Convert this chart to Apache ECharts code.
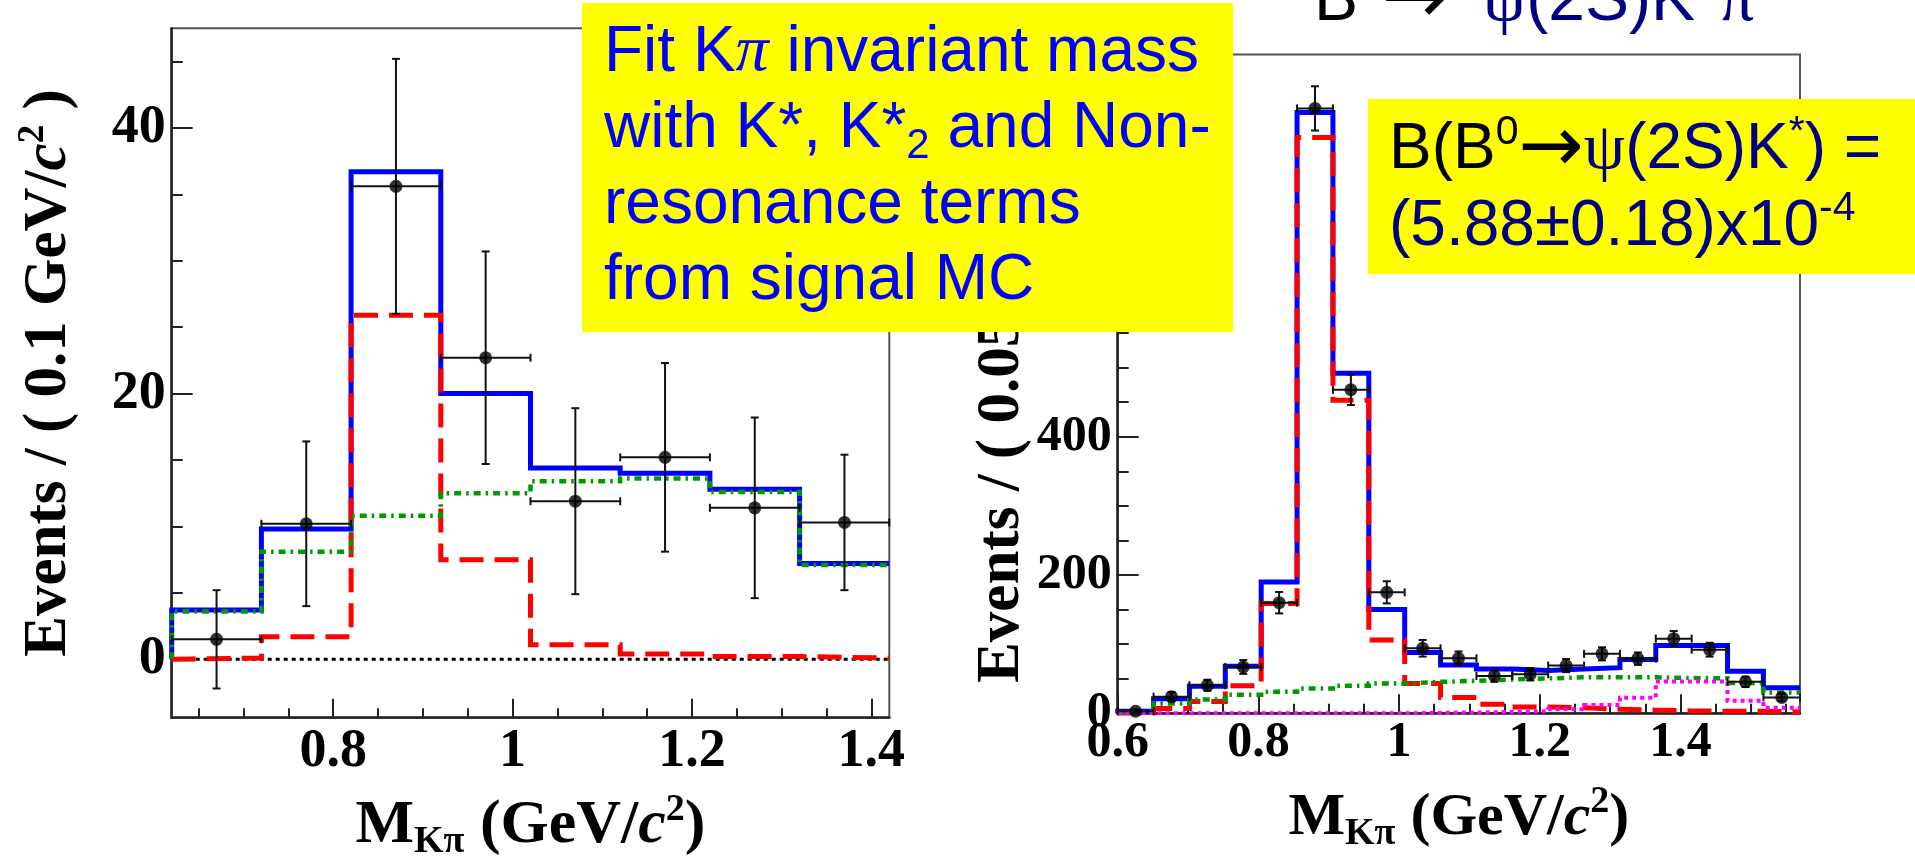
<!DOCTYPE html>
<html>
<head>
<meta charset="utf-8">
<script src="https://cdn.jsdelivr.net/npm/echarts@6/dist/echarts.min.js"></script>
<style>
html, body { margin: 0; padding: 0; background: #ffffff; }
#main { width: 1915px; height: 865px; }
</style>
</head>
<body>
<div id="main"></div>
<script>
// ---------- Left panel: K pi mass, 0.1 GeV/c^2 bins ----------
const leftBinEdges = [0.62, 0.72, 0.82, 0.92, 1.02, 1.12, 1.22, 1.32, 1.42];
const leftEvents = [1.5, 10.2, 35.6, 22.7, 11.9, 15.2, 11.4, 10.3];
const leftEventErr = [3.7, 6.2, 9.6, 8.0, 7.0, 7.1, 6.8, 5.1];
const leftFitTotal = [3.7, 9.8, 36.7, 20.0, 14.4, 14.0, 12.8, 7.2];
const leftFitKstar = [0.1, 1.7, 25.9, 7.5, 1.1, 0.4, 0.2, 0.1];
const leftFitNonRes = [3.6, 8.1, 10.8, 12.5, 13.4, 13.6, 12.6, 7.1];
const leftXMajor = [0.8, 1.0, 1.2, 1.4];
const leftXMinor = [0.65, 0.7, 0.75, 0.85, 0.9, 0.95, 1.05, 1.1, 1.15, 1.25, 1.3, 1.35];
const leftYMajor = [0, 20, 40];
const leftYMinor = [5, 10, 15, 25, 30, 35, 45];

// ---------- Right panel: K pi mass, 19 bins ----------
const rightBinEdges = [0.600, 0.651, 0.702, 0.753, 0.804, 0.855, 0.906, 0.957, 1.008, 1.059,
                       1.110, 1.161, 1.212, 1.263, 1.314, 1.365, 1.416, 1.467, 1.518, 1.570];
const rightEvents = [3, 24, 40.5, 67, 160, 875, 468, 175, 94, 79.5, 54, 56.5, 69, 86, 79, 108, 92, 45.5, 23];
const rightEventErr = [2.5, 6.5, 8, 10, 15.5, 32, 22, 16, 12, 10, 8.5, 9, 9.5, 9.5, 9, 11, 10, 7.5, 5.5];
const rightFitTotal = [3, 21, 39, 68, 190, 869, 492, 150, 88, 70, 64, 62, 64, 66, 78, 98, 98, 61, 37];
const rightFitKstar = [0.5, 7, 17, 40, 159, 833, 453, 106, 43, 23, 13, 9, 8, 6, 4.5, 3.5, 3, 3, 2];
const rightFitNonRes = [2, 14, 20, 27, 31, 36, 40, 43, 45.5, 47, 49, 50.5, 52, 52, 52, 51, 50.5, 44, 30];
const rightFitK2star = [0, 0, 0, 0, 0, 0, 0, 0, 0.5, 1, 2, 3, 6, 12, 22.5, 46, 46, 18, 8];
const rightXMajor = [0.6, 0.8, 1.0, 1.2, 1.4];
const rightXMinor = [0.65, 0.7, 0.75, 0.85, 0.9, 0.95, 1.05, 1.1, 1.15, 1.25, 1.3, 1.35, 1.45, 1.5, 1.55];
const rightYMajor = [0, 200, 400, 600, 800];
const rightYMinor = [50, 100, 150, 250, 300, 350, 450, 500, 550, 650, 700, 750, 850, 900];

const SERIF = '"Liberation Serif", "Times New Roman", serif';
const SANS = '"Liberation Sans", Arial, sans-serif';
const ARROW = '"DejaVu Sans", sans-serif';
const BLUE = '#0000ff', RED = '#ff0000', GREEN = '#009a00', MAGENTA = '#ff00ff', NAVY = '#000080';

// histogram outline: rise from zero at the first edge, then one level per bin
function stepPoints(edges, values) {
  const pts = [[edges[0], 0]];
  values.forEach((v, i) => pts.push([edges[i], v]));
  pts.push([edges[edges.length - 1], values[values.length - 1]]);
  return pts;
}

function stepSeries(axisIdx, edges, values, color, width, dash, z) {
  return {
    type: 'line', xAxisIndex: axisIdx, yAxisIndex: axisIdx,
    data: stepPoints(edges, values), step: 'end', symbol: 'none',
    lineStyle: { color: color, width: width, type: dash, cap: 'butt', join: 'miter' },
    z: z, silent: true, animation: false
  };
}

// data rows: [center, value, binLow, binHigh, value-err, value+err]
function dataRows(edges, values, errs) {
  return values.map((v, i) => [(edges[i] + edges[i + 1]) / 2, v, edges[i], edges[i + 1], v - errs[i], v + errs[i]]);
}

function errorBarSeries(axisIdx, rows) {
  return {
    type: 'custom', xAxisIndex: axisIdx, yAxisIndex: axisIdx, data: rows, z: 9,
    silent: true, animation: false,
    renderItem: function (params, api) {
      const c = api.coord([api.value(0), api.value(1)]);
      const l = api.coord([api.value(2), api.value(1)]);
      const r = api.coord([api.value(3), api.value(1)]);
      const b = api.coord([api.value(0), api.value(4)]);
      const t = api.coord([api.value(0), api.value(5)]);
      const h = 4;
      const st = { stroke: '#111', lineWidth: 2 };
      const seg = (x1, y1, x2, y2) => ({ type: 'line', shape: { x1, y1, x2, y2 }, style: st });
      return {
        type: 'group', children: [
          seg(l[0], c[1], r[0], c[1]),
          seg(c[0], b[1], c[0], t[1]),
          seg(c[0] - h, t[1], c[0] + h, t[1]),
          seg(c[0] - h, b[1], c[0] + h, b[1]),
          seg(l[0], c[1] - h, l[0], c[1] + h),
          seg(r[0], c[1] - h, r[0], c[1] + h)
        ]
      };
    }
  };
}

function pointSeries(axisIdx, edges, values) {
  return {
    type: 'scatter', xAxisIndex: axisIdx, yAxisIndex: axisIdx,
    data: values.map((v, i) => [(edges[i] + edges[i + 1]) / 2, v]),
    symbol: 'circle', symbolSize: 13, itemStyle: { color: '#000' }, z: 10,
    silent: true, animation: false
  };
}

function titleRich(size, subSize) {
  return {
    m: { fontFamily: SERIF, fontWeight: 'bold', fontSize: size, lineHeight: 70, color: '#000' },
    i: { fontFamily: SERIF, fontWeight: 'bold', fontStyle: 'italic', fontSize: size, lineHeight: 70, color: '#000' },
    s: { fontFamily: SERIF, fontWeight: 'bold', fontSize: subSize, lineHeight: 22, verticalAlign: 'bottom', color: '#000' },
    p: { fontFamily: SERIF, fontWeight: 'bold', fontSize: subSize, lineHeight: 66, verticalAlign: 'top', color: '#000' }
  };
}

function xAxisPair(gridIndex, min, max, majors, minors, labelSize, labelMargin, name, nameGap, nameSize) {
  const tickStyle = { color: '#222', width: 2 };
  return [
    {
      type: 'value', gridIndex, min, max, position: 'bottom',
      axisLine: { show: true, onZero: false, lineStyle: { color: '#222', width: 2.5 } },
      axisTick: { show: true, inside: true, length: 19, customValues: majors, lineStyle: tickStyle },
      axisLabel: { show: true, customValues: majors, margin: labelMargin, showMinLabel: true, showMaxLabel: true,
                   fontFamily: SERIF, fontWeight: 'bold', fontSize: labelSize, color: '#000' },
      splitLine: { show: false },
      name, nameLocation: 'middle', nameGap,
      nameTextStyle: { fontFamily: SERIF, fontWeight: 'bold', fontSize: nameSize, color: '#000', rich: titleRich(nameSize, 38) }
    },
    {
      type: 'value', gridIndex, min, max, position: 'bottom',
      axisLine: { show: false, onZero: false },
      axisTick: { show: true, inside: true, length: 9.5, customValues: minors, lineStyle: tickStyle },
      axisLabel: { show: false }, splitLine: { show: false }
    }
  ];
}

function yAxisPair(gridIndex, min, max, majors, minors, labelSize, name, nameGap) {
  const tickStyle = { color: '#222', width: 2 };
  return [
    {
      type: 'value', gridIndex, min, max, position: 'left',
      axisLine: { show: true, onZero: false, lineStyle: { color: '#222', width: 2.5 } },
      axisTick: { show: true, inside: true, length: 21, customValues: majors, lineStyle: tickStyle },
      axisLabel: { show: true, customValues: majors, margin: 6, showMinLabel: true,
                   fontFamily: SERIF, fontWeight: 'bold', fontSize: labelSize, color: '#000' },
      splitLine: { show: false },
      name, nameLocation: 'middle', nameGap,
      nameTextStyle: { fontFamily: SERIF, fontWeight: 'bold', fontSize: 61, color: '#000', rich: titleRich(61, 37) }
    },
    {
      type: 'value', gridIndex, min, max, position: 'left',
      axisLine: { show: false, onZero: false },
      axisTick: { show: true, inside: true, length: 11, customValues: minors, lineStyle: tickStyle },
      axisLabel: { show: false }, splitLine: { show: false }
    }
  ];
}

const massTitle = '{m|M}{s|Kπ}{m| (GeV/}{i|c}{p|2}{m|)}';

const chart = echarts.init(document.getElementById('main'), null, { renderer: 'canvas' });

chart.setOption({
  animation: false,
  backgroundColor: '#ffffff',
  grid: [
    { left: 171.7, top: 28.3, width: 717.6, height: 689.4, show: true, borderColor: '#555', borderWidth: 2,
      backgroundColor: 'transparent', outerBoundsMode: 'none', containLabel: false },
    { left: 1117.7, top: 54.5, width: 682.3, height: 658.8, show: true, borderColor: '#555', borderWidth: 2,
      backgroundColor: 'transparent', outerBoundsMode: 'none', containLabel: false }
  ],
  xAxis: [
    ...xAxisPair(0, 0.62, 1.42, leftXMajor, leftXMinor, 54, 7, massTitle, 73, 62),
    ...xAxisPair(1, 0.6, 1.57, rightXMajor, rightXMinor, 50, 5, massTitle, 70, 60)
  ],
  yAxis: [
    ...yAxisPair(0, -4.4, 47.5, leftYMajor, leftYMinor, 54, '{m|Events / ( 0.1 GeV/}{i|c}{p|2}{m| )}', 87),
    ...yAxisPair(1, 0, 953, rightYMajor, rightYMinor, 50, '{m|Events / ( 0.05 GeV/}{i|c}{p|2}{m| )}', 80)
  ],
  series: [
    // left panel
    {
      type: 'line', xAxisIndex: 0, yAxisIndex: 0, data: [[0.62, 0], [1.42, 0]], symbol: 'none',
      lineStyle: { color: '#000', width: 3, type: [4, 4] }, z: 2, silent: true
    },
    stepSeries(0, leftBinEdges, leftFitTotal, BLUE, 5, 'solid', 3),
    stepSeries(0, leftBinEdges, leftFitKstar, RED, 5, [24, 11], 4),
    stepSeries(0, leftBinEdges, leftFitNonRes, GREEN, 4.5, [7, 5, 2.5, 5], 5),
    errorBarSeries(0, dataRows(leftBinEdges, leftEvents, leftEventErr)),
    pointSeries(0, leftBinEdges, leftEvents),
    // right panel
    stepSeries(2, rightBinEdges, rightFitTotal, BLUE, 5, 'solid', 3),
    stepSeries(2, rightBinEdges, rightFitKstar, RED, 5, [24, 11], 4),
    stepSeries(2, rightBinEdges, rightFitNonRes, GREEN, 4.5, [7, 5, 2.5, 5], 5),
    stepSeries(2, rightBinEdges, rightFitK2star, MAGENTA, 4, [4, 4], 5),
    errorBarSeries(2, dataRows(rightBinEdges, rightEvents, rightEventErr)),
    pointSeries(2, rightBinEdges, rightEvents)
  ],
  graphic: [
    // decay title along the top edge
    {
      type: 'text', z: 100, x: 1314, y: 2,
      style: {
        text: '{k|B}{ks|0}{a|→}{sp| }{g|ψ}{n|(2S)K}{ns|+}{g|π}{ns|−}',
        verticalAlign: 'middle', align: 'left',
        rich: {
          k: { fontFamily: SANS, fontSize: 66, lineHeight: 80, fill: '#000' },
          ks: { fontFamily: SANS, fontSize: 42, lineHeight: 56, verticalAlign: 'top', fill: '#000' },
          a: { fontFamily: ARROW, fontSize: 80, lineHeight: 80, fill: '#000' },
          sp: { fontFamily: SANS, fontSize: 66, lineHeight: 80, width: 34 },
          g: { fontFamily: SERIF, fontSize: 70, lineHeight: 80, fill: NAVY },
          n: { fontFamily: SANS, fontSize: 66, lineHeight: 80, fill: NAVY },
          ns: { fontFamily: SANS, fontSize: 42, lineHeight: 56, verticalAlign: 'top', fill: NAVY }
        }
      }
    },
    // fit description box
    { type: 'rect', z: 100, shape: { x: 582, y: 3, width: 651, height: 329 }, style: { fill: '#ffff00' } },
    {
      type: 'text', z: 101, x: 604, y: 15,
      style: {
        text: '{t|Fit K}{g|π}{t| invariant mass}\n{t|with K*, K*}{b|2}{t| and Non-}\n{t|resonance terms}\n{t|from signal MC}',
        verticalAlign: 'top', align: 'left',
        rich: {
          t: { fontFamily: SANS, fontSize: 64, lineHeight: 76, fill: BLUE },
          g: { fontFamily: SERIF, fontStyle: 'italic', fontSize: 66, lineHeight: 76, fill: BLUE },
          b: { fontFamily: SANS, fontSize: 42, lineHeight: 32, verticalAlign: 'bottom', fill: BLUE }
        }
      }
    },
    // branching fraction box
    { type: 'rect', z: 100, shape: { x: 1368, y: 99, width: 547, height: 175 }, style: { fill: '#ffff00' } },
    {
      type: 'text', z: 101, x: 1389, y: 112,
      style: {
        text: '{k|B(B}{ks|0}{a|→}{g|ψ}{n|(2S)K}{ns|*}{n|) =}\n{n|(5.88±0.18)x10}{ns|-4}',
        verticalAlign: 'top', align: 'left',
        rich: {
          k: { fontFamily: SANS, fontSize: 64, lineHeight: 76.6, fill: '#000' },
          ks: { fontFamily: SANS, fontSize: 41, lineHeight: 52, verticalAlign: 'top', fill: '#000' },
          a: { fontFamily: ARROW, fontSize: 78, lineHeight: 76.6, fill: '#000' },
          g: { fontFamily: SERIF, fontSize: 66, lineHeight: 76.6, fill: NAVY },
          n: { fontFamily: SANS, fontSize: 64, lineHeight: 76.6, fill: NAVY },
          ns: { fontFamily: SANS, fontSize: 41, lineHeight: 52, verticalAlign: 'top', fill: NAVY }
        }
      }
    }
  ]
});
</script>
</body>
</html>
